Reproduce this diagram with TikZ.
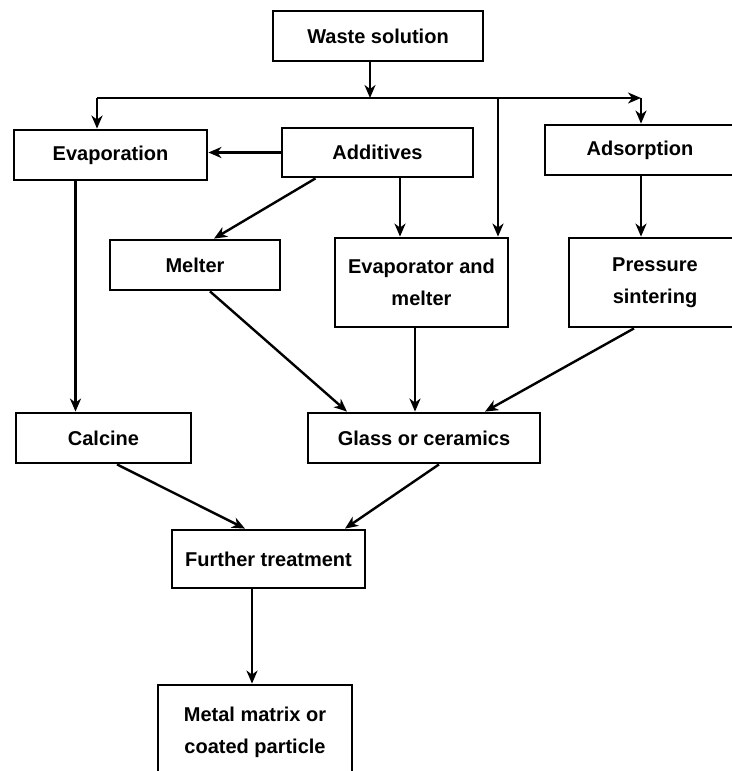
\documentclass[tikz,border=0pt]{standalone}
\usepackage{fontspec}
\setmainfont{Liberation Sans}
\usepackage{tikz}
\usetikzlibrary{arrows.meta,positioning,calc}

\begin{document}
\begin{tikzpicture}[x=1pt,y=-1pt,
          box/.style={draw, line width=2.8pt, align=center, inner sep=0pt,
            font=\fontsize{20}{32}\selectfont\bfseries},
          flow/.style={line width=2.4pt, -{Stealth[length=13pt,width=11pt,inset=4pt]}},
          pipe/.style={line width=2.4pt}
        ]
          \useasboundingbox (0,0) rectangle (731,771);

          % Kästen
          \node[box, minimum width=210pt, minimum height=50pt] (waste) at (378,36) {Waste solution};
          \node[box, minimum width=193pt, minimum height=50pt] (evap) at (110.5,155) {Evaporation};
          \node[box, minimum width=191pt, minimum height=49pt] (add) at (377.5,152.5) {Additives};
          \node[box, minimum width=190pt, minimum height=50pt] (ads) at (640,150) {Adsorption};
          \node[box, minimum width=170pt, minimum height=50pt] (melter) at (195,265) {Melter};
          \node[box, minimum width=173pt, minimum height=89pt] (evm) at (421.5,282.5) {Evaporator and\\melter};
          \node[box, minimum width=172pt, minimum height=89pt] (press) at (655,282.5) {Pressure\\sintering};
          \node[box, minimum width=175pt, minimum height=50pt] (calc) at (103.5,438) {Calcine};
          \node[box, minimum width=232pt, minimum height=50pt] (glass) at (424,438) {Glass or ceramics};
          \node[box, minimum width=193pt, minimum height=58pt] (further) at (268.5,559) {Further treatment};
          \node[box, minimum width=194pt, minimum height=95pt] (metal) at (255,732.5) {Metal matrix or\\coated particle};

          % Verteiler
          \coordinate (split) at (370,98);
          \coordinate (lft) at (97,98);
          \coordinate (mid) at (498,98);
          \coordinate (rgt) at (641,98);
          \draw[flow] (waste.south -| split) -- (split);
          \draw[pipe] (split) -- (lft);
          \draw[flow] (lft) -- (rgt);
          \draw[flow] (lft) -- (evap.north -| lft);
          \draw[flow] (rgt) -- (ads.north -| rgt);
          \draw[flow] (mid) -- (evm.north -| mid);

          % Zusätze
          \draw[flow] (add.west) -- (evap.east |- add.west);
          \draw[flow] ([xshift=-62pt]add.south) -- ([xshift=19pt]melter.north);
          \draw[flow] ([xshift=22.5pt]add.south) coordinate (a1) -- (a1 |- evm.north);

          % zweite Stufe
          \draw[flow] ([xshift=-35pt]evap.south) coordinate (e1) -- (e1 |- calc.north);
          \draw[flow] (ads.south -| rgt) -- (press.north -| rgt);
          \draw[flow] ([xshift=15pt]melter.south) -- ([xshift=-77pt]glass.north);
          \draw[flow] ([xshift=-6.5pt]evm.south) coordinate (v1) -- (v1 |- glass.north);
          \draw[flow] ([xshift=-21pt]press.south) -- ([xshift=61pt]glass.north);

          % Nachbehandlung
          \draw[flow] ([xshift=13.5pt]calc.south) -- ([xshift=-23.5pt]further.north);
          \draw[flow] ([xshift=15pt]glass.south) -- ([xshift=76.5pt]further.north);
          \draw[flow] ([xshift=-16.5pt]further.south) coordinate (f1) -- (f1 |- metal.north);
        \end{tikzpicture}
\end{document}
